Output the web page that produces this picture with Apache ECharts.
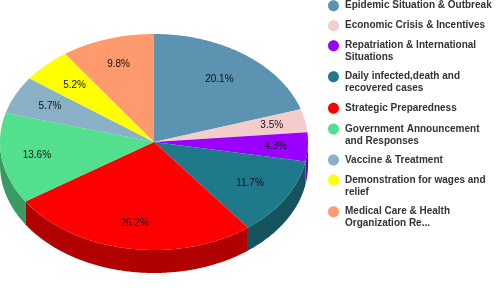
<!DOCTYPE html>
<html><head><meta charset="utf-8">
<style>html,body{margin:0;padding:0;background:#fff}#c{width:498px;height:308px}</style>
<script src="https://cdn.jsdelivr.net/npm/echarts@6/dist/echarts.min.js"></script>
</head><body><div id="c"></div>
<script>
const categories = ['Epidemic Situation & Outbreak','Economic Crisis & Incentives','Repatriation & International\nSituations','Daily infected,death and\nrecovered cases','Strategic Preparedness','Government Announcement\nand Responses','Vaccine & Treatment','Demonstration for wages and\nrelief','Medical Care & Health\nOrganization Re...'];
const values = [20.1,3.5,4.3,11.7,26.2,13.6,5.7,5.2,9.8];
const colors = ['#5b93b0','#f4cccc','#9900ff','#1e7a8a','#ff0000','#52e08f','#8ab0c6','#ffff00','#ff9a6e'];
const legendCenters = [5.7,25.7,45.7,76.7,108.3,129,160,180,211.7];
const labelRadii = [0.72,0.78,0.79,0.73,0.76,0.77,0.75,0.735,0.76];

const CX=154, CY=142, RX=154, RY=108, DEPTH=23, LINE=12;
const total = values.reduce((a,b)=>a+b,0);
const pt=(t,k,dy)=>[CX+RX*k*Math.sin(t), CY-RY*k*Math.cos(t)+(dy||0)];
function dark(hex){const n=parseInt(hex.slice(1),16);const f=c=>Math.round(c*0.69);
  return `rgb(${f(n>>16)},${f((n>>8)&255)},${f(n&255)})`;}
function arcPts(a,b,dy){const n=Math.max(2,Math.ceil((b-a)/0.01)),r=[];
  for(let i=0;i<=n;i++)r.push(pt(a+(b-a)*i/n,1,dy));return r;}

const series = categories.map((name,i)=>({
  type:'custom', name, coordinateSystem:'none', silent:true, animation:false,
  itemStyle:{color:colors[i]}, data:[[values[i]]],
  renderItem(params,api){
    const v=api.value(0);
    let cum=0; for(let j=0;j<i;j++)cum+=values[j];
    const a=cum/total*2*Math.PI, b=a+v/total*2*Math.PI, m=(a+b)/2;
    const kids=[];
    const s=Math.max(a,Math.PI/2), e=Math.min(b,3*Math.PI/2);
    if(e>s){
      const top=arcPts(s,e,0), bot=arcPts(s,e,DEPTH).reverse();
      kids.push({type:'polygon',shape:{points:top.concat(bot)},style:{fill:dark(colors[i])},z2:1});
    }
    kids.push({type:'polygon',shape:{points:[[CX,CY]].concat(arcPts(a,b,0))},style:{fill:colors[i]},z2:2});
    const p=pt(m,labelRadii[i]);
    kids.push({type:'text',z2:5,style:{x:p[0],y:p[1],text:v.toFixed(1)+'%',fill:'#111',
      font:'10px "Liberation Sans", Arial, sans-serif',align:'center',verticalAlign:'middle'}});
    return {type:'group',children:kids};
  }
}));

function icon(name){const h=name.includes('\n')?2*LINE:LINE;
  const r=5.5,k=r*0.5523,c=5.5,y=6;
  return `path://M0,0 L0,0 Z M12,${h} L12,${h} Z M${c-r},${y} C${c-r},${y-k} ${c-k},${y-r} ${c},${y-r} C${c+k},${y-r} ${c+r},${y-k} ${c+r},${y} C${c+r},${y+k} ${c+k},${y+r} ${c},${y+r} C${c-k},${y+r} ${c-r},${y+k} ${c-r},${y} Z`;}
const legend = categories.map((name,i)=>{const h=name.includes('\n')?2*LINE:LINE;return {
  left:328, top:legendCenters[i]-6, padding:0, orient:'vertical', selectedMode:false,
  itemWidth:12, itemHeight:h, symbolKeepAspect:false,
  data:[{name,icon:icon(name)}],
  textStyle:{color:'#333',fontSize:10,fontWeight:'bold',lineHeight:LINE,fontFamily:'"Liberation Sans", Arial, sans-serif'}
};});

const chart=echarts.init(document.getElementById('c'),null,{renderer:'canvas'});
chart.setOption({backgroundColor:'#fff',animation:false,legend,series});
</script></body></html>
